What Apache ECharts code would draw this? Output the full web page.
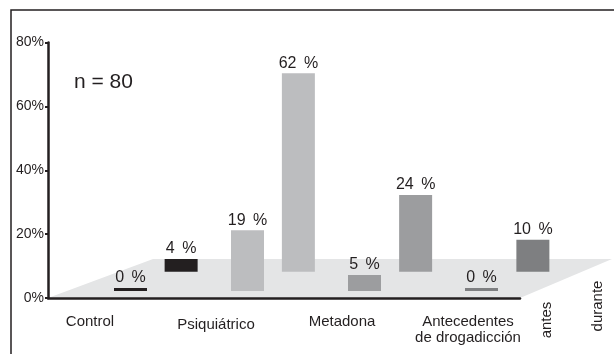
<!DOCTYPE html>
<html>
<head>
<meta charset="utf-8">
<script src="https://cdn.jsdelivr.net/npm/echarts@6/dist/echarts.min.js"></script>
<style>
  html, body { margin: 0; padding: 0; background: #fff; }
  #chart { width: 614px; height: 354px; }
</style>
</head>
<body>
<div id="chart"></div>
<script>
// Categories and values (percent of patients)
const categories = ['Control', 'Psiquiátrico', 'Metadona', 'Antecedentes\nde drogadicción'];
const antes = [0, 19, 5, 0];
const durante = [4, 62, 24, 10];
const rowNames = ['antes', 'durante'];
const sampleNote = 'n = 80';
const yMax = 80;
const yStep = 20;

// Styling
const barColors = ['#231f20', '#bcbdbf', '#9c9d9f', '#7e7f81'];
const ink = '#231f20';
const font = 'Liberation Sans, Arial, Helvetica, sans-serif';

// Layout: visible axes frame, front row (antes) and back row (durante)
const axisFrame = { left: 48, top: 42.5, width: 472, height: 255.5 };
const frontRow = { left: 72, top: 35, width: 468, height: 256 };
const backRow = { left: 122.5, top: 15.7, width: 469, height: 256 };
const labelRow = { left: 27, top: 42.5, width: 504, height: 255.5 };
const floorBackY = 259;
const floorBackLeft = 153;
const floorBackRight = 612;

const chart = echarts.init(document.getElementById('chart'), null, { renderer: 'canvas' });

function barData(values) {
  return values.map((v, i) => ({ value: v, itemStyle: { color: barColors[i] } }));
}

const valueLabel = {
  show: true,
  position: 'top',
  distance: 2,
  color: ink,
  fontFamily: font,
  fontSize: 16,
  formatter: p => '{v|' + p.value + '} {p|%}',
  rich: {
    v: { fontFamily: font, fontSize: 16, color: ink },
    p: { fontFamily: font, fontSize: 16, color: ink, padding: [0, 0, 0, 3] }
  }
};

const hiddenAxis = { show: false };

const floorBottom = axisFrame.top + axisFrame.height;

chart.setOption({
  animation: false,
  backgroundColor: '#ffffff',
  title: {
    text: sampleNote,
    left: 69,
    top: 67,
    textStyle: { fontFamily: font, fontSize: 21, fontWeight: 'normal', color: ink }
  },
  grid: [
    Object.assign({}, axisFrame),
    Object.assign({}, frontRow),
    Object.assign({}, backRow),
    Object.assign({}, labelRow)
  ],
  xAxis: [
    {
      gridIndex: 0, type: 'category', data: categories,
      axisLine: { show: true, lineStyle: { color: ink, width: 2.5 } },
      axisTick: { show: false }, axisLabel: { show: false }
    },
    { gridIndex: 1, type: 'category', data: categories, show: false },
    { gridIndex: 2, type: 'category', data: categories, show: false },
    {
      gridIndex: 3, type: 'category', data: categories,
      axisLine: { show: false }, axisTick: { show: false },
      axisLabel: {
        show: true, margin: 16, interval: 0,
        color: ink, fontFamily: font, fontSize: 15, lineHeight: 16,
        formatter: (v, i) => i === 1 ? '{low|' + v + '}' : v,
        rich: { low: { fontFamily: font, fontSize: 15, color: ink, padding: [6, 0, 0, 0] } }
      }
    }
  ],
  yAxis: [
    {
      gridIndex: 0, type: 'value', min: 0, max: yMax, interval: yStep,
      axisLine: { show: true, lineStyle: { color: ink, width: 2.5 } },
      axisTick: { show: true, length: 3, lineStyle: { color: ink, width: 2 } },
      splitLine: { show: false },
      axisLabel: { margin: 4, color: ink, fontFamily: font, fontSize: 14, formatter: '{value}%' }
    },
    { gridIndex: 1, type: 'value', min: 0, max: yMax, show: false, splitLine: hiddenAxis },
    { gridIndex: 2, type: 'value', min: 0, max: yMax, show: false, splitLine: hiddenAxis },
    { gridIndex: 3, type: 'value', min: 0, max: yMax, show: false, splitLine: hiddenAxis }
  ],
  series: [
    {
      name: rowNames[1], type: 'bar', xAxisIndex: 2, yAxisIndex: 2,
      data: barData(durante), barWidth: 33, barMinHeight: 3,
      label: valueLabel, z: 3
    },
    {
      name: rowNames[0], type: 'bar', xAxisIndex: 1, yAxisIndex: 1,
      data: barData(antes), barWidth: 33, barMinHeight: 3,
      label: valueLabel, z: 4
    }
  ],
  graphic: [
    {
      type: 'polygon', z: -10, silent: true,
      shape: {
        points: [
          [axisFrame.left, floorBottom],
          [axisFrame.left + axisFrame.width, floorBottom],
          [floorBackRight, floorBackY],
          [floorBackLeft, floorBackY]
        ]
      },
      style: { fill: '#e4e5e6' }
    },
    {
      type: 'rect', z: 10, silent: true,
      shape: { x: 11, y: 10, width: 700, height: 400 },
      style: { fill: 'none', stroke: ink, lineWidth: 1.5 }
    },
    {
      type: 'text', x: 547, y: 320, rotation: Math.PI / 2, silent: true,
      style: { text: rowNames[0], fill: ink, font: '15px ' + font, textAlign: 'center', textVerticalAlign: 'middle' }
    },
    {
      type: 'text', x: 598, y: 306, rotation: Math.PI / 2, silent: true,
      style: { text: rowNames[1], fill: ink, font: '15px ' + font, textAlign: 'center', textVerticalAlign: 'middle' }
    }
  ]
});
</script>
</body>
</html>
